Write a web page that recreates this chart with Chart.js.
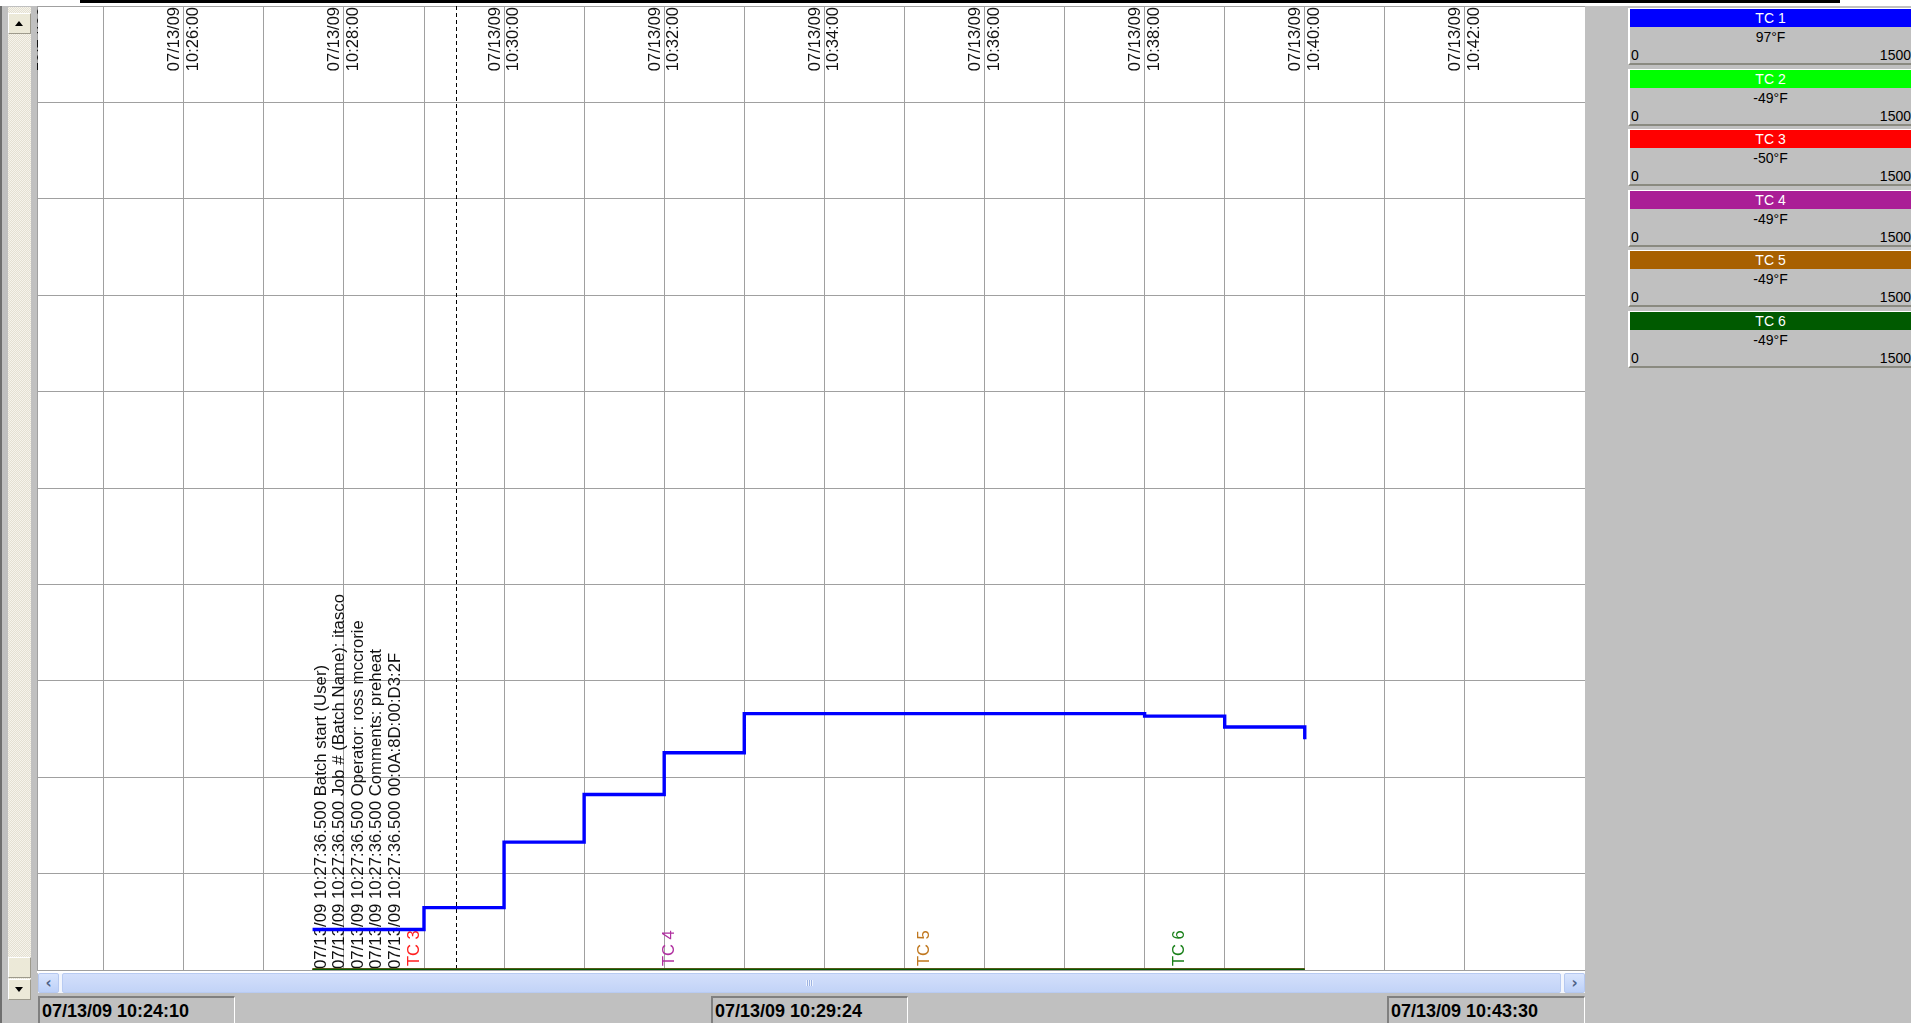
<!DOCTYPE html>
<html>
<head>
<meta charset="utf-8">
<title>TC recorder</title>
<script src="https://cdn.jsdelivr.net/npm/chart.js@4.4.1/dist/chart.umd.min.js"></script>
<style>
    html, body { margin: 0; padding: 0; }
    body {
        width: 1911px; height: 1023px; overflow: hidden; position: relative;
        background: #c0c0c0; font-family: "Liberation Sans", Arial, sans-serif;
    }
    .abs { position: absolute; }
    #topStrip { left: 0; top: 0; width: 1911px; height: 6px; background: #fff; }
    #topBar { left: 80px; top: 0; width: 1760px; height: 3px; background: #000; }
    #leftEdge { left: 0; top: 6px; width: 2px; height: 1017px; background: #6f6f6f; }
    #vTrack {
        left: 8px; top: 7px; width: 23px; height: 992px;
        background: repeating-conic-gradient(#f6f4ec 0 25%, #e4e0d2 0 50%) 0 0 / 2px 2px;
    }
    .xpBtn {
        left: 8px; width: 21px; height: 19px; background: #ece9d8;
        border: 1px solid; border-color: #fff #9d9a8c #9d9a8c #fff;
    }
    .tri { position: absolute; left: 6px; width: 0; height: 0; border-left: 4px solid transparent; border-right: 4px solid transparent; }
    #plotWrap { left: 37px; top: 6px; width: 1548px; height: 967px; background: #fff; }
    #hScroll { left: 38px; top: 973px; width: 1547px; height: 20px; background: #f3f6fd; }
    .hBtn {
        top: 0; width: 19px; height: 18px; border: 1px solid #b5c8f0; border-radius: 2px;
        background: linear-gradient(#d9e5fd, #bcd0f8); color: #4d6185;
        font: bold 15px/18px "DejaVu Sans", sans-serif; text-align: center;
    }
    #hThumb {
        top: 0; left: 24px; width: 1497px; height: 18px; border: 1px solid #b8cbf2; border-radius: 2px;
        background: linear-gradient(#d3dffb, #c2d3f7);
    }
    #grip { left: 743px; top: 6px; width: 7px; height: 6px;
        background: repeating-linear-gradient(90deg, #eef3fe 0 1px, #9db3e2 1px 2px); }
    .status {
        top: 996px; height: 27px; box-sizing: border-box;
        border-top: 2px solid #808080; border-left: 2px solid #808080; border-right: 1px solid #fff;
        font: bold 18px/26px "Liberation Sans", Arial, sans-serif; color: #000; padding-left: 2px;
        white-space: nowrap;
    }
    .card { left: 1628px; width: 283px; height: 57px; box-sizing: border-box;
        border-top: 1px solid #fff; border-left: 2px solid #fff; border-bottom: 2px solid #8a8a80; }
    .cardHead { position: absolute; left: 0; top: 0; right: 0; height: 18px; color: #fff;
        font: 14px/18px "Liberation Sans", Arial, sans-serif; text-align: center; }
    .cardVal { position: absolute; left: 0; right: 0; top: 20px; font: 14px/16px "Liberation Sans", Arial, sans-serif; text-align: center; color: #000; }
    .cardMin { position: absolute; left: 1px; top: 38px; font: 14px/16px "Liberation Sans", Arial, sans-serif; color: #000; }
    .cardMax { position: absolute; right: 0; top: 38px; font: 14px/16px "Liberation Sans", Arial, sans-serif; color: #000; }
</style>
</head>
<body>
<div id="topStrip" class="abs"></div>
<div id="topBar" class="abs"></div>
<div id="leftEdge" class="abs"></div>
<div id="vTrack" class="abs"></div>
<div class="abs xpBtn" style="top:13px"><div class="tri" style="top:7px;border-bottom:5px solid #000"></div></div>
<div class="abs xpBtn" style="top:957px"></div>
<div class="abs xpBtn" style="top:979px"><div class="tri" style="top:7px;border-top:5px solid #000"></div></div>

<div id="plotWrap" class="abs"><canvas id="recorder"></canvas></div>

<div id="hScroll" class="abs">
    <div class="abs hBtn" style="left:0">&#8249;</div>
    <div id="hThumb" class="abs"><div id="grip" class="abs"></div></div>
    <div class="abs hBtn" style="right:0">&#8250;</div>
</div>

<div id="statusLeft" class="abs status" style="left:38px;width:197px"></div>
<div id="statusMid" class="abs status" style="left:711px;width:197px"></div>
<div id="statusRight" class="abs status" style="left:1387px;width:198px"></div>

<div id="penPanel"></div>

<script>
// view window and cursor
const viewDate = '07/13/09';
const viewStart = '10:24:10';
const viewEnd = '10:43:30';
const cursorTime = '10:29:24';

// time labels along the top of the chart
const topTickTimes = ['10:24:00', '10:26:00', '10:28:00', '10:30:00', '10:32:00',
    '10:34:00', '10:36:00', '10:38:00', '10:40:00', '10:42:00'];

// pens
const penNames = ['TC 1', 'TC 2', 'TC 3', 'TC 4', 'TC 5', 'TC 6'];
const penColors = ['#0000ff', '#00ff00', '#ff0000', '#aa1e96', '#a86000', '#005a00'];
const penReadouts = [97, -49, -50, -49, -49, -49];
const scaleMin = 0;
const scaleMax = 1500;

// logged samples (one per minute after batch start)
const sampleTimes = ['10:27:36.5', '10:29:00', '10:30:00', '10:31:00', '10:32:00', '10:33:00',
    '10:34:00', '10:35:00', '10:36:00', '10:37:00', '10:38:00', '10:39:00', '10:40:00'];
const tc1Values = [63, 97, 199, 273, 338, 399, 399, 399, 399, 399, 395, 378, 359];
const tc2Values = [-49, -49, -49, -49, -49, -49, -49, -49, -49, -49, -49, -49, -49];
const tc3Values = [-50, -50, -50, -50, -50, -50, -50, -50, -50, -50, -50, -50, -50];
const tc4Values = [-49, -49, -49, -49, -49, -49, -49, -49, -49, -49, -49, -49, -49];
const tc5Values = [-49, -49, -49, -49, -49, -49, -49, -49, -49, -49, -49, -49, -49];
const tc6Values = [-49, -49, -49, -49, -49, -49, -49, -49, -49, -49, -49, -49, -49];

// batch event notes
const eventTime = '10:27:36.5';
const eventNotes = [
    '07/13/09 10:27:36.500 Batch start (User)',
    '07/13/09 10:27:36.500 Job # (Batch Name): itasco',
    '07/13/09 10:27:36.500 Operator: ross mccrorie',
    '07/13/09 10:27:36.500 Comments: preheat',
    '07/13/09 10:27:36.500 00:0A:8D:00:D3:2F'
];

// pen name tags along the bottom trace
const penTagNames = ['TC 3', 'TC 4', 'TC 5', 'TC 6'];
const penTagTimes = ['10:28:53', '10:32:04', '10:35:15', '10:38:26'];
const penTagColors = ['#ff2020', '#b030a0', '#c07820', '#1a801a'];

const allValues = [tc1Values, tc2Values, tc3Values, tc4Values, tc5Values, tc6Values];
const drawOrder = [0, 5, 4, 3, 2, 1]; // TC 1 on top, then TC 6

function toSec(t) {
    const [h, m, s] = t.split(':').map(Number);
    return h * 3600 + m * 60 + s;
}
// the recorder pins out-of-range values to the chart edge
const clampY = v => Math.min(Math.max(v, scaleMin), scaleMax);

const TICK_FONT = '16.5px "Liberation Sans", Arial, sans-serif';
const NOTE_FONT = '16.8px "Liberation Sans", Arial, sans-serif';

function drawUp(ctx, x, y, text, align) {
    ctx.save();
    ctx.translate(x, y);
    ctx.rotate(-Math.PI / 2);
    ctx.textAlign = align;
    ctx.fillText(text, 0, 0);
    ctx.restore();
}

const recorderOverlay = {
    id: 'recorderOverlay',
    beforeDatasetsDraw(chart) {
        const { ctx, chartArea: area, scales: { x } } = chart;
        ctx.save();
        ctx.beginPath();
        ctx.rect(area.left, area.top, area.width, area.height);
        ctx.clip();
        ctx.textBaseline = 'middle';

        // date / time labels at the top
        ctx.font = TICK_FONT;
        ctx.fillStyle = '#111';
        topTickTimes.forEach(t => {
            const px = x.getPixelForValue(toSec(t));
            drawUp(ctx, px - 9, area.top + 1, viewDate, 'right');
            drawUp(ctx, px + 9.5, area.top + 1, t, 'right');
        });

        // cursor line
        const cx = Math.round(x.getPixelForValue(toSec(cursorTime))) + 0.5;
        ctx.strokeStyle = '#000';
        ctx.lineWidth = 1;
        ctx.setLineDash([4, 3]);
        ctx.beginPath();
        ctx.moveTo(cx, area.top);
        ctx.lineTo(cx, area.bottom);
        ctx.stroke();
        ctx.setLineDash([]);

        // event notes
        ctx.font = NOTE_FONT;
        ctx.fillStyle = '#111';
        const ex = x.getPixelForValue(toSec(eventTime));
        eventNotes.forEach((note, i) => drawUp(ctx, ex + 8.5 + i * 18.5, area.bottom - 1, note, 'left'));

        // pen tags
        ctx.font = TICK_FONT;
        penTagNames.forEach((name, i) => {
            ctx.fillStyle = penTagColors[i];
            drawUp(ctx, x.getPixelForValue(toSec(penTagTimes[i])), area.bottom - 4, name, 'left');
        });
        ctx.restore();
    }
};

const sampleSecs = sampleTimes.map(toSec);
const datasets = penNames.map((name, i) => ({
    label: name,
    data: sampleSecs.map((s, k) => ({ x: s, y: clampY(allValues[i][k]) })),
    borderColor: penColors[i],
    borderWidth: i === 0 ? 3.4 : 3,
    stepped: true,
    pointRadius: 0,
    fill: false,
    order: drawOrder[i],
}));

const gridStyle = { color: '#a0a0a0', lineWidth: 1, drawTicks: false };

new Chart(document.getElementById('recorder').getContext('2d'), {
    type: 'line',
    data: { datasets: datasets },
    options: {
        responsive: true,
        maintainAspectRatio: false,
        animation: false,
        events: [],
        layout: { padding: { left: 0, right: 0, top: 0, bottom: 3 } },
        plugins: { legend: { display: false }, tooltip: { enabled: false } },
        scales: {
            x: {
                type: 'linear',
                min: toSec(viewStart),
                max: toSec(viewEnd),
                ticks: { display: false, stepSize: 60 },
                grid: gridStyle,
                border: { display: false },
                afterFit(scale) { scale.height = 0; },
            },
            y: {
                type: 'linear',
                min: scaleMin,
                max: scaleMax,
                ticks: { display: false, stepSize: 150 },
                grid: gridStyle,
                border: { display: false },
                afterFit(scale) { scale.width = 0; },
            },
        },
    },
    plugins: [recorderOverlay],
});

// status boxes
document.getElementById('statusLeft').textContent = viewDate + ' ' + viewStart;
document.getElementById('statusMid').textContent = viewDate + ' ' + cursorTime;
document.getElementById('statusRight').textContent = viewDate + ' ' + viewEnd;

// pen cards on the right
const panel = document.getElementById('penPanel');
penNames.forEach((name, i) => {
    const card = document.createElement('div');
    card.className = 'abs card';
    card.style.top = (8 + i * 60.5) + 'px';
    card.innerHTML = `
        <div class="cardHead" style="background:${penColors[i]}">${name}</div>
        <div class="cardVal">${penReadouts[i]}&deg;F</div>
        <div class="cardMin">${scaleMin}</div>
        <div class="cardMax">${scaleMax}</div>`;
    panel.appendChild(card);
});
</script>
</body>
</html>
